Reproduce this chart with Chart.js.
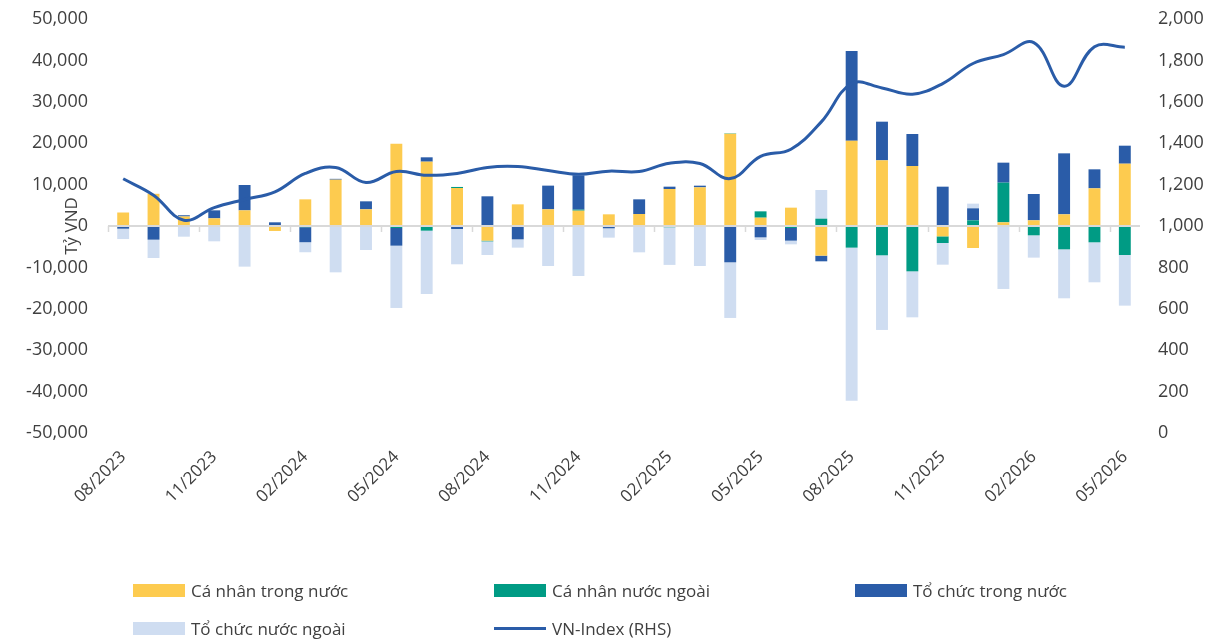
<!DOCTYPE html>
<html lang="vi">
<head>
<meta charset="utf-8">
<script src="https://cdn.jsdelivr.net/npm/chart.js@4.4.1/dist/chart.umd.min.js"></script>
<style>
  body { margin: 0; background: #fff; font-family: "Open Sans", sans-serif; }
  #wrap { position: relative; width: 1224px; height: 641px; }
  #legend { position: absolute; left: 0; top: 0; width: 1224px; height: 641px; pointer-events: none; }
  .lg-item { position: absolute; display: flex; align-items: center; font-size: 17px; color: #404040; white-space: nowrap; }
  .lg-box { width: 52px; height: 13px; margin-right: 6px; }
  .lg-line { width: 52px; height: 3px; margin-right: 6px; }
</style>
</head>
<body>
<div id="wrap">
  <canvas id="chart" width="1224" height="560"></canvas>
  <div id="legend"></div>
</div>
<script>
// Tháng
const categories = [
  '08/2023', '09/2023', '10/2023', '11/2023', '12/2023',
  '01/2024', '02/2024', '03/2024', '04/2024', '05/2024', '06/2024',
  '07/2024', '08/2024', '09/2024', '10/2024', '11/2024', '12/2024',
  '01/2025', '02/2025', '03/2025', '04/2025', '05/2025', '06/2025',
  '07/2025', '08/2025', '09/2025', '10/2025', '11/2025', '12/2025',
  '01/2026', '02/2026', '03/2026', '04/2026', '05/2026'
];

// Giá trị mua/bán ròng (Tỷ VND)
const caNhanTrongNuoc = [
  3260, 7780, 2300, 1850, 3780, -1200, 6440, 11190, 4030, 19890, 15540,
  9180, -3540, 5230, 4030, 3700, 2820, 2900, 8940, 9340, 22300, 2010, 4430,
  -7160, 20610, 15860, 14490, -2500, -5310, 890, 1370, 2820, 9100, 15050
];
const caNhanNuocNgoai = [
  0, 0, 0, 0, 0, 0, -300, 0, 0, -480, -1130,
  250, -170, 0, 0, 250, 0, 0, -300, 0, 100, 1530, -480,
  1770, -5230, -7080, -10950, -1610, 1370, 9580, -2250, -5635, -3940, -7000
];
const toChucTrongNuoc = [
  -650, -3300, 300, 1930, 6120, 890, -3620, 200, 1930, -4270, 1050,
  -720, 7170, -3220, 5720, 8290, -560, 3540, 560, 400, -8770, -2740, -3060,
  -1370, 21650, 9340, 7730, 9500, 2900, 4830, 6360, 14730, 4590, 4350
];
const toChucNuocNgoai = [
  -2500, -4430, -2580, -3700, -9820, 0, -2420, -11190, -5800, -15050, -15300,
  -8530, -3300, -2010, -9660, -12080, -2250, -6360, -9100, -9660, -13440, -640, -890,
  6920, -36950, -18030, -11110, -5230, 1130, -15210, -5390, -11830, -9660, -12240
];
const vnIndex = [
  1228, 1149, 1028, 1089, 1128, 1165, 1254, 1283, 1210, 1263, 1245,
  1254, 1283, 1287, 1268, 1250, 1265, 1263, 1303, 1302, 1229, 1336, 1371,
  1503, 1688, 1667, 1637, 1688, 1785, 1828, 1886, 1675, 1866, 1864
];

const seriesNames = ['Cá nhân trong nước', 'Cá nhân nước ngoài', 'Tổ chức trong nước', 'Tổ chức nước ngoài', 'VN-Index (RHS)'];
const seriesColors = ['#FDCB4F', '#009B84', '#2A5CA8', '#CFDDF1', '#2A5CA8'];

const leftTicks = { min: -50000, max: 50000, step: 10000 };
const rightTicks = { min: 0, max: 2000, step: 200 };

const FONT = '"Open Sans", sans-serif';
const TEXT = '#404040';
const NONE = 'rgba(0,0,0,0)';

// Tiêu đề trục trái nằm chồng lên nhãn như bản gốc
const yTitlePlugin = {
    id: 'yTitle',
    afterDraw(chart) {
        const ctx = chart.ctx;
        const y0 = chart.scales.y.getPixelForValue(0);
        ctx.save();
        ctx.translate(72, y0);
        ctx.rotate(-Math.PI / 2);
        ctx.font = '17px ' + FONT;
        ctx.fillStyle = TEXT;
        ctx.textAlign = 'center';
        ctx.textBaseline = 'middle';
        ctx.fillText('Tỷ VND', 0, 0);
        ctx.restore();
    }
};

// Vạch chia nhỏ trên trục 0, mỗi 3 tháng
const zeroTicksPlugin = {
    id: 'zeroTicks',
    afterDatasetsDraw(chart) {
        const ctx = chart.ctx;
        const xs = chart.scales.x;
        const y0 = chart.scales.y.getPixelForValue(0);
        const half = (xs.getPixelForValue(1) - xs.getPixelForValue(0)) / 2;
        ctx.save();
        ctx.strokeStyle = '#d9d9d9';
        ctx.lineWidth = 1.5;
        for (let i = 0; i <= categories.length; i += 3) {
            const px = Math.round(xs.getPixelForValue(i) - half) + 0.5;
            ctx.beginPath();
            ctx.moveTo(px, y0);
            ctx.lineTo(px, y0 + 6);
            ctx.stroke();
        }
        ctx.restore();
    }
};

function barSet(idx, data) {
    return {
        type: 'bar',
        label: seriesNames[idx],
        data: data,
        backgroundColor: seriesColors[idx],
        borderWidth: 0,
        stack: 'flow',
        yAxisID: 'y',
        order: 2,
        categoryPercentage: 0.8,
        barPercentage: 0.49
    };
}

const chart = new Chart(document.getElementById('chart'), {
    data: {
        labels: categories,
        datasets: [
            barSet(0, caNhanTrongNuoc),
            barSet(1, caNhanNuocNgoai),
            barSet(2, toChucTrongNuoc),
            barSet(3, toChucNuocNgoai),
            {
                type: 'line',
                label: seriesNames[4],
                data: vnIndex,
                borderColor: seriesColors[4],
                borderWidth: 3,
                pointRadius: 0,
                tension: 0.4,
                yAxisID: 'y1',
                order: 1
            }
        ]
    },
    options: {
        responsive: false,
        animation: false,
        devicePixelRatio: 1,
        layout: { padding: { top: 19, left: 0, right: 0, bottom: 0 } },
        plugins: {
            legend: { display: false },
            tooltip: { enabled: false }
        },
        scales: {
            x: {
                stacked: true,
                grid: { display: false },
                border: { display: false },
                ticks: {
                    autoSkip: false,
                    maxRotation: 45,
                    minRotation: 45,
                    padding: 6,
                    color: TEXT,
                    font: { family: FONT, size: 17 },
                    callback: function(value, index) {
                        return index % 3 === 0 ? this.getLabelForValue(value) : '';
                    }
                },
                afterFit: (scale) => { scale.height = 560 - 433; }
            },
            y: {
                position: 'left',
                stacked: true,
                min: leftTicks.min,
                max: leftTicks.max,
                border: { display: false },
                grid: {
                    drawTicks: true,
                    tickLength: 17,
                    tickColor: NONE,
                    color: (c) => c.tick && c.tick.value === 0 ? '#d9d9d9' : NONE,
                    lineWidth: (c) => c.tick && c.tick.value === 0 ? 2 : 0
                },
                ticks: {
                    stepSize: leftTicks.step,
                    padding: 3,
                    color: TEXT,
                    font: { family: FONT, size: 18 }
                },
                afterFit: (scale) => { scale.width = 108; }
            },
            y1: {
                position: 'right',
                min: rightTicks.min,
                max: rightTicks.max,
                border: { display: false },
                grid: { drawOnChartArea: false, drawTicks: true, tickLength: 15, tickColor: NONE, color: NONE },
                ticks: {
                    stepSize: rightTicks.step,
                    padding: 3,
                    color: TEXT,
                    font: { family: FONT, size: 18 }
                },
                afterFit: (scale) => { scale.width = 84; }
            }
        }
    },
    plugins: [yTitlePlugin, zeroTicksPlugin]
});

// Chú thích HTML theo lưới 3 cột như bản gốc
const legendEl = document.getElementById('legend');
const legendPos = [[133, 590], [494, 590], [855, 590], [133, 628], [494, 628]];
chart.data.datasets.forEach((ds, i) => {
    const item = document.createElement('div');
    item.className = 'lg-item';
    item.style.left = legendPos[i][0] + 'px';
    item.style.top = (legendPos[i][1] - 12) + 'px';
    item.style.height = '24px';
    const swatch = document.createElement('span');
    swatch.className = ds.type === 'line' ? 'lg-line' : 'lg-box';
    swatch.style.background = ds.type === 'line' ? ds.borderColor : ds.backgroundColor;
    const text = document.createElement('span');
    text.textContent = ds.label;
    item.appendChild(swatch);
    item.appendChild(text);
    legendEl.appendChild(item);
});
</script>
</body>
</html>
